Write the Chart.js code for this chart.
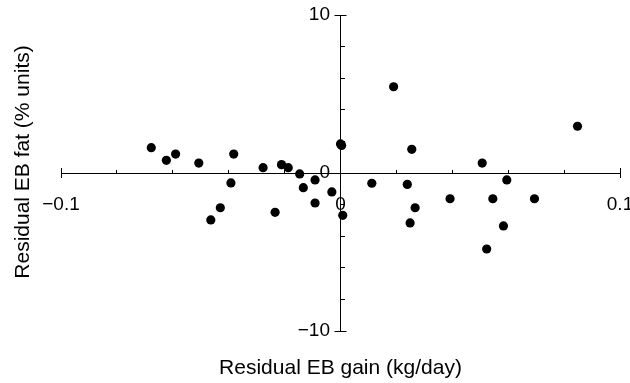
<!DOCTYPE html>
<html>
<head>
<meta charset="utf-8">
<script src="https://cdn.jsdelivr.net/npm/chart.js"></script>
<style>
  body { margin: 0; background: #fff; }
</style>
</head>
<body>
<canvas id="grafico" width="630" height="383"></canvas>
<script>
// Datos (ganancia residual kg/día, grasa residual % unidades)
const gananciaResidual = [
  -0.0677, -0.0623, -0.0590, -0.0507, -0.0464, -0.0430, -0.0392, -0.0382,
  -0.0277, -0.0234, -0.0211, -0.0187, -0.0146, -0.0133, -0.0091, -0.0091,
  -0.0031, 0.0000, 0.0004, 0.0008, 0.0112, 0.0190, 0.0239, 0.0249,
  0.0255, 0.0267, 0.0392, 0.0507, 0.0523, 0.0545, 0.0583, 0.0595,
  0.0694, 0.0848
];
const grasaResidual = [
  1.60, 0.80, 1.20, 0.63, -2.97, -2.20, -0.63, 1.20,
  0.34, -2.49, 0.53, 0.34, -0.06, -0.93, -0.44, -1.90,
  -1.20, 1.84, 1.74, -2.68, -0.65, 5.46, -0.72, -3.16,
  1.50, -2.20, -1.63, 0.63, -4.81, -1.63, -3.35, -0.44,
  -1.63, 2.96
];

// Marcas con etiqueta en cada eje
const etiquetasX = [-0.1, 0, 0.1];
const etiquetasY = [-10, 0, 10];

const tituloX = "Residual EB gain (kg/day)";
const tituloY = "Residual EB fat (% units)";

const fuente = "'Liberation Sans', Arial, Helvetica, sans-serif";

function formato(lista, valor, relleno) {
  const t = lista.find((v) => Math.abs(v - valor) < 1e-9);
  if (t === undefined) return "";
  return String(t).replace("-", "\u2212") + relleno;
}

// Plugin para los títulos de los ejes y las marcas de los extremos
const extras = {
  id: "extras",
  afterDraw(chart) {
    const ctx = chart.ctx;
    const x = chart.scales.x;
    const y = chart.scales.y;
    const x0 = x.getPixelForValue(0);
    const y0 = y.getPixelForValue(0);

    ctx.save();
    ctx.strokeStyle = "#000";
    ctx.lineWidth = 1;
    ctx.beginPath();
    [x.min, x.max].forEach((v) => {
      const px = Math.round(x.getPixelForValue(v)) + 0.5;
      ctx.moveTo(px, y0 - 5);
      ctx.lineTo(px, y0 + 5);
    });
    [y.min, y.max].forEach((v) => {
      const py = Math.round(y.getPixelForValue(v)) + 0.5;
      ctx.moveTo(x0 - 6, py);
      ctx.lineTo(x0 + 6, py);
    });
    ctx.stroke();

    ctx.fillStyle = "#000";
    ctx.font = "21px " + fuente;
    ctx.textAlign = "center";
    ctx.textBaseline = "middle";
    ctx.fillText(tituloX, x0, 368);
    ctx.translate(23, 162);
    ctx.rotate(-Math.PI / 2);
    ctx.fillText(tituloY, 0, 0);
    ctx.restore();
  },
};

const ctx = document.getElementById("grafico").getContext("2d");
const grafico = new Chart(ctx, {
  type: "scatter",
  data: {
    datasets: [
      {
        data: gananciaResidual.map((v, i) => ({ x: v, y: grasaResidual[i] })),
        backgroundColor: "#000",
        borderWidth: 0,
        pointRadius: 4.6,
      },
    ],
  },
  options: {
    responsive: false,
    animation: false,
    layout: { padding: { left: 61, right: 10, top: 15, bottom: 52 } },
    plugins: { legend: { display: false }, tooltip: { enabled: false } },
    scales: {
      x: {
        type: "linear",
        position: { y: 0 },
        min: -0.1,
        max: 0.1,
        afterFit: (scale) => {
          scale.paddingLeft = 0;
          scale.paddingRight = 0;
        },
        grid: {
          drawOnChartArea: false,
          drawTicks: true,
          tickLength: -4,
          color: "#000",
        },
        border: { color: "#000", width: 1 },
        ticks: {
          stepSize: 0.02,
          autoSkip: false,
          maxRotation: 0,
          padding: 24,
          color: "#000",
          font: { family: fuente, size: 19 },
          callback: (value) => formato(etiquetasX, value, ""),
        },
      },
      y: {
        type: "linear",
        position: { x: 0 },
        min: -10,
        max: 10,
        afterFit: (scale) => {
          scale.paddingTop = 0;
          scale.paddingBottom = 0;
        },
        grid: {
          drawOnChartArea: false,
          drawTicks: true,
          tickLength: -5,
          color: "#000",
        },
        border: { color: "#000", width: 1 },
        ticks: {
          stepSize: 2,
          autoSkip: false,
          color: "#000",
          font: { family: fuente, size: 19 },
          callback: (value) => formato(etiquetasY, value, "  "),
        },
      },
    },
  },
  plugins: [extras],
});
</script>
</body>
</html>
